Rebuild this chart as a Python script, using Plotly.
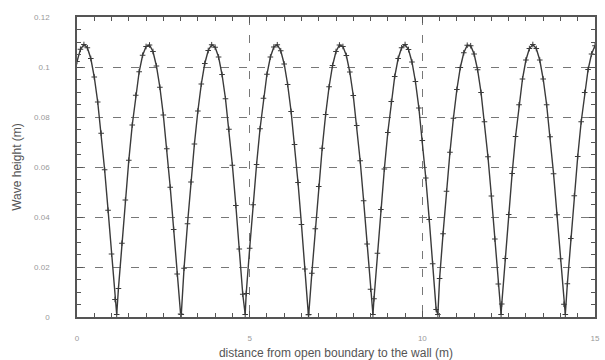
import plotly.graph_objects as go

# distance from open boundary (m), step 0.1 m
distance = [round(0.1 * i, 1) for i in range(151)]

# wave height (m)
wave_height = [
    0.1022, 0.1071, 0.1090, 0.1077, 0.1034, 0.0960, 0.0860, 0.0735, 0.0589, 0.0427,
    0.0252, 0.0070, 0.0114, 0.0295, 0.0468, 0.0627, 0.0768, 0.0887, 0.0981, 0.1047,
    0.1082, 0.1088, 0.1062, 0.1004, 0.0919, 0.0808, 0.0673, 0.0519, 0.0350, 0.0172,
    0.0012, 0.0195, 0.0373, 0.0540, 0.0692, 0.0824, 0.0932, 0.1014, 0.1066, 0.1089,
    0.1079, 0.1040, 0.0970, 0.0873, 0.0751, 0.0607, 0.0446, 0.0272, 0.0091, 0.0094,
    0.0275, 0.0449, 0.0610, 0.0753, 0.0875, 0.0971, 0.1040, 0.1080, 0.1089, 0.1065,
    0.1012, 0.0930, 0.0822, 0.0690, 0.0538, 0.0370, 0.0192, 0.0009, 0.0175, 0.0353,
    0.0522, 0.0675, 0.0810, 0.0921, 0.1006, 0.1062, 0.1088, 0.1082, 0.1046, 0.0980,
    0.0886, 0.0766, 0.0625, 0.0465, 0.0292, 0.0111, 0.0073, 0.0255, 0.0430, 0.0592,
    0.0738, 0.0862, 0.0962, 0.1034, 0.1077, 0.1090, 0.1070, 0.1020, 0.0942, 0.0836,
    0.0706, 0.0556, 0.0390, 0.0213, 0.0030, 0.0154, 0.0333, 0.0503, 0.0659, 0.0795,
    0.0910, 0.0998, 0.1057, 0.1087, 0.1085, 0.1052, 0.0989, 0.0898, 0.0781, 0.0641,
    0.0484, 0.0312, 0.0132, 0.0052, 0.0234, 0.0410, 0.0574, 0.0722, 0.0849, 0.0952,
    0.1028, 0.1074, 0.1090, 0.1074, 0.1028, 0.0952, 0.0849, 0.0721, 0.0573, 0.0409,
    0.0233, 0.0051, 0.0133, 0.0314, 0.0485, 0.0642, 0.0781, 0.0898, 0.0990, 0.1052,
    0.1085,
]

# troughs (nodes)
trough_distance = [1.15, 3.02, 4.87, 6.71, 8.57, 10.45, 12.28, 14.14]
trough_height = [0.001, 0.001, 0.001, 0.001, 0.001, 0.001, 0.001, 0.001]

x_ticks = [0, 5, 10, 15]
x_tick_labels = ["0", "5", "10", "15"]
y_ticks = [0, 0.02, 0.04, 0.06, 0.08, 0.1, 0.12]
y_tick_labels = ["0", "0.02", "0.04", "0.06", "0.08", "0.1", "0.12"]

pairs = sorted(zip(distance + trough_distance, wave_height + trough_height))
xs = [p[0] for p in pairs]
ys = [p[1] for p in pairs]

fig = go.Figure()
fig.add_trace(go.Scatter(
    x=xs, y=ys, mode="lines+markers",
    line=dict(color="#3a3a3a", width=1.4),
    marker=dict(symbol="cross-thin", size=4, line=dict(color="#3a3a3a", width=1)),
    showlegend=False,
))

axis_common = dict(
    showline=True, linecolor="#555", linewidth=1.5, mirror="ticks",
    ticks="inside", tickcolor="#555", ticklen=6, tickwidth=1,
    gridcolor="#777", griddash="8px,10px", gridwidth=1,
    zeroline=False, automargin=False,
    tickfont=dict(family="Liberation Sans, Arial", size=8, color="#999"),
)

fig.update_xaxes(
    range=[0, 15], tickvals=x_ticks, ticktext=x_tick_labels,
    minor=dict(dtick=0.5, ticks="inside", ticklen=4, tickcolor="#555", showgrid=False),
    title=dict(text="distance from open boundary to the wall (m)", standoff=9,
               font=dict(family="Liberation Sans, Arial", size=12, color="#555")),
    ticklabelstandoff=13,
    **axis_common,
)
fig.update_yaxes(
    range=[0, 0.12], tickvals=y_ticks, ticktext=y_tick_labels,
    minor=dict(dtick=0.005, ticks="inside", ticklen=4, tickcolor="#555", showgrid=False),
    title=dict(text="Wave height (m)", standoff=10,
               font=dict(family="Liberation Sans, Arial", size=12, color="#555")),
    ticklabelstandoff=24,
    **axis_common,
)

fig.update_layout(
    width=605, height=360,
    margin=dict(l=77, r=10, t=17, b=43),
    paper_bgcolor="white", plot_bgcolor="white",
)

fig.write_html("out.html")
